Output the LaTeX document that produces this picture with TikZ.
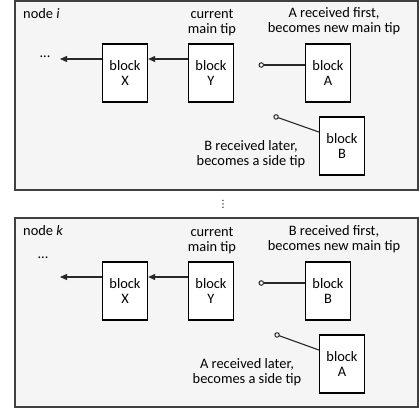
\documentclass[tikz,border=0pt]{standalone}
\usepackage{fontspec}
\setmainfont{Carlito}
\newfontfamily\dejavu{DejaVu Sans}
\usetikzlibrary{arrows.meta}
\definecolor{framebg}{RGB}{245,245,245}
\definecolor{framedraw}{RGB}{64,64,64}
\definecolor{linecol}{RGB}{40,40,40}
\begin{document}
\begin{tikzpicture}[x=1pt,y=-1pt,
  every node/.style={font=\fontsize{14.4}{15}\selectfont, text=black},
  framebox/.style={draw=framedraw, fill=framebg, line width=1.2pt},
  blockbox/.style={draw=black, fill=white, line width=1.3pt, minimum width=45pt, minimum height=58pt, inner sep=0pt, align=center},
  lbl/.style={align=center, inner sep=0pt},
  link/.style={draw=linecol, line width=1.1pt},
  chainarrow/.style={link, -{Triangle[length=7pt,width=6pt]}},
  tiplink/.style={link, {Circle[open,length=5.5pt,width=5.5pt,line width=1pt]}-}
]
\useasboundingbox (0,0) rectangle (419,413);

% ---------- node i ----------
\draw[framebox] (15,1) rectangle (418,190);
\node[anchor=west, inner sep=0pt] (ni) at (23,14) {node \textit{i}};
\node[blockbox] (Xi) at (125,73) {block\\X};
\node[blockbox] (Yi) at (211,73) {block\\Y};
\node[blockbox] (Ai) at (328,73) {block\\A};
\node[blockbox] (Bi) at (342,146) {block\\B};
\node[inner sep=0pt] (di) at (45,57) {...};
\coordinate (ei) at (60,59);
\coordinate (ci) at (258.5,65);
\coordinate (si) at (273.5,116);
\node[lbl] (li1) at (212,22.5) {current\\main tip};
\node[lbl] (li2) at (334,21.5) {A received first,\\becomes new main tip};
\node[lbl] (li3) at (251,154) {B received later,\\becomes a side tip};
\draw[chainarrow] ([yshift=14pt]Yi.west) -- ([yshift=14pt]Xi.east);
\draw[chainarrow] ([yshift=14pt]Xi.west) -- (ei);
\draw[tiplink] (ci) -- ([yshift=8pt]Ai.west);
\draw[tiplink] (si) -- ([yshift=14pt]Bi.west);

% ---------- dots between ----------
\node[inner sep=0pt, font=\dejavu\fontsize{10}{10}\selectfont] (vd) at (223,204) {⋮};

% ---------- node k ----------
\draw[framebox] (15,218) rectangle (418,407);
\node[anchor=west, inner sep=0pt] (nk) at (23,231) {node \textit{k}};
\node[blockbox] (Xk) at (125,291) {block\\X};
\node[blockbox] (Yk) at (211,291) {block\\Y};
\node[blockbox] (Bk) at (328,291) {block\\B};
\node[blockbox] (Ak) at (342,364) {block\\A};
\node[inner sep=0pt] (dk) at (43,258) {...};
\coordinate (ek) at (60,277);
\coordinate (ck) at (258.5,283);
\coordinate (sk) at (274.5,334);
\node[lbl] (lk1) at (212,240.5) {current\\main tip};
\node[lbl] (lk2) at (334,239.5) {B received first,\\becomes new main tip};
\node[lbl] (lk3) at (247,372) {A received later,\\becomes a side tip};
\draw[chainarrow] ([yshift=14pt]Yk.west) -- ([yshift=14pt]Xk.east);
\draw[chainarrow] ([yshift=14pt]Xk.west) -- (ek);
\draw[tiplink] (ck) -- ([yshift=8pt]Bk.west);
\draw[tiplink] (sk) -- ([yshift=14pt]Ak.west);
\end{tikzpicture}
\end{document}
